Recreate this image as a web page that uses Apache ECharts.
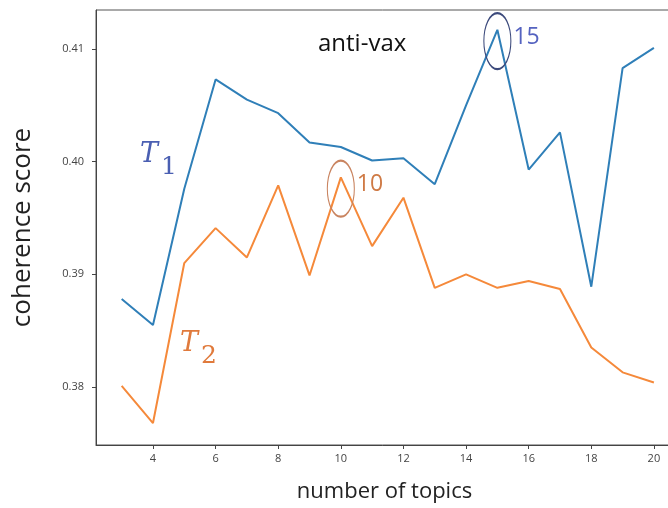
<!DOCTYPE html>
<html>
<head>
<meta charset="utf-8">
<script src="https://cdn.jsdelivr.net/npm/echarts@6/dist/echarts.min.js"></script>
<style>
  html, body { margin: 0; padding: 0; background: #fff; }
  #chart { width: 668px; height: 508px; }
</style>
</head>
<body>
<div id="chart"></div>
<script>
// number of topics
const topics = [3, 4, 5, 6, 7, 8, 9, 10, 11, 12, 13, 14, 15, 16, 17, 18, 19, 20];
// coherence score, T1 (blue) and T2 (orange)
const t1 = [0.3878, 0.3855, 0.3976, 0.4073, 0.4055, 0.4043, 0.4017, 0.4013, 0.4001, 0.4003, 0.3980, 0.4050, 0.4117, 0.3993, 0.4026, 0.3889, 0.4083, 0.4101];
const t2 = [0.3801, 0.3768, 0.3910, 0.3941, 0.3915, 0.3979, 0.3899, 0.3986, 0.3925, 0.3968, 0.3888, 0.3900, 0.3888, 0.3894, 0.3887, 0.3835, 0.3813, 0.3804];
const xTicks = [4, 6, 8, 10, 12, 14, 16, 18, 20];
const yTicks = [0.38, 0.39, 0.40, 0.41];
// circled best points
const best1 = [15, 0.4107];
const best2 = [10, 0.3976];

const font = "'Open Sans', 'Noto Sans', sans-serif";
const serif = "'DejaVu Serif', serif";
let mychart = echarts.init(document.getElementById("chart"));

function ring(coord, color, textColor, label) {
  return {
    symbol: "circle",
    symbolSize: [27, 56],
    silent: true,
    data: [{
      coord: coord,
      itemStyle: { color: "rgba(0,0,0,0)", borderColor: color, borderWidth: 1.5 },
      label: {
        show: true,
        formatter: label,
        position: "right",
        distance: 2,
        offset: [0, -4],
        color: textColor,
        fontSize: 23,
        fontFamily: font
      }
    }]
  };
}

function mathLabel(x, y, sub, color) {
  return [
    { type: "text", left: x, top: y - 3, style: { text: "T", fontSize: 27, fontStyle: "italic", fontFamily: serif, fill: color } },
    { type: "text", left: x + 21, top: y + 11, style: { text: sub, fontSize: 25, fontFamily: serif, fill: color } }
  ];
}

mychart.setOption({
  animation: false,
  grid: {
    left: 96,
    top: 10,
    right: -5,
    bottom: 63,
    outerBoundsMode: "none",
    containLabel: false,
    show: true,
    borderColor: "#555",
    borderWidth: 1
  },
  xAxis: {
    type: "value",
    min: 2.18,
    max: 20.61,
    name: "number of topics",
    nameLocation: "middle",
    nameGap: 36,
    nameTextStyle: { fontSize: 22, color: "#222", fontFamily: font },
    axisLine: { show: true, lineStyle: { color: "#444" } },
    axisTick: { show: true, length: 4, customValues: xTicks, lineStyle: { color: "#444" } },
    axisLabel: { customValues: xTicks, color: "#444", fontSize: 11, margin: 8, fontFamily: font },
    splitLine: { show: false }
  },
  yAxis: {
    type: "value",
    min: 0.37485,
    max: 0.41346,
    name: "coherence score",
    nameLocation: "middle",
    nameGap: 60,
    nameTextStyle: { fontSize: 26, color: "#222", fontFamily: font },
    axisLine: { show: true, lineStyle: { color: "#444" } },
    axisTick: { show: true, length: 4, customValues: yTicks, lineStyle: { color: "#444" } },
    axisLabel: {
      customValues: yTicks,
      color: "#444",
      fontSize: 11,
      margin: 12,
      fontFamily: font,
      formatter: (v) => v.toFixed(2)
    },
    splitLine: { show: false }
  },
  series: [
    {
      name: "T1",
      type: "line",
      data: topics.map((x, i) => [x, t1[i]]),
      symbol: "none",
      lineStyle: { color: "#2f7fb8", width: 2 },
      markPoint: ring(best1, "#3c4a7c", "#5563c0", "15")
    },
    {
      name: "T2",
      type: "line",
      data: topics.map((x, i) => [x, t2[i]]),
      symbol: "none",
      lineStyle: { color: "#f5893a", width: 2 },
      markPoint: ring(best2, "#c98460", "#cf7a45", "10")
    }
  ],
  graphic: [
    {
      type: "text",
      left: 318,
      top: 32,
      style: { text: "anti-vax", fontSize: 24, fill: "#111", fontFamily: font }
    }
  ].concat(mathLabel(140, 144, "1", "#4a5fb2"), mathLabel(180, 333, "2", "#e07a3c"))
});
</script>
</body>
</html>
